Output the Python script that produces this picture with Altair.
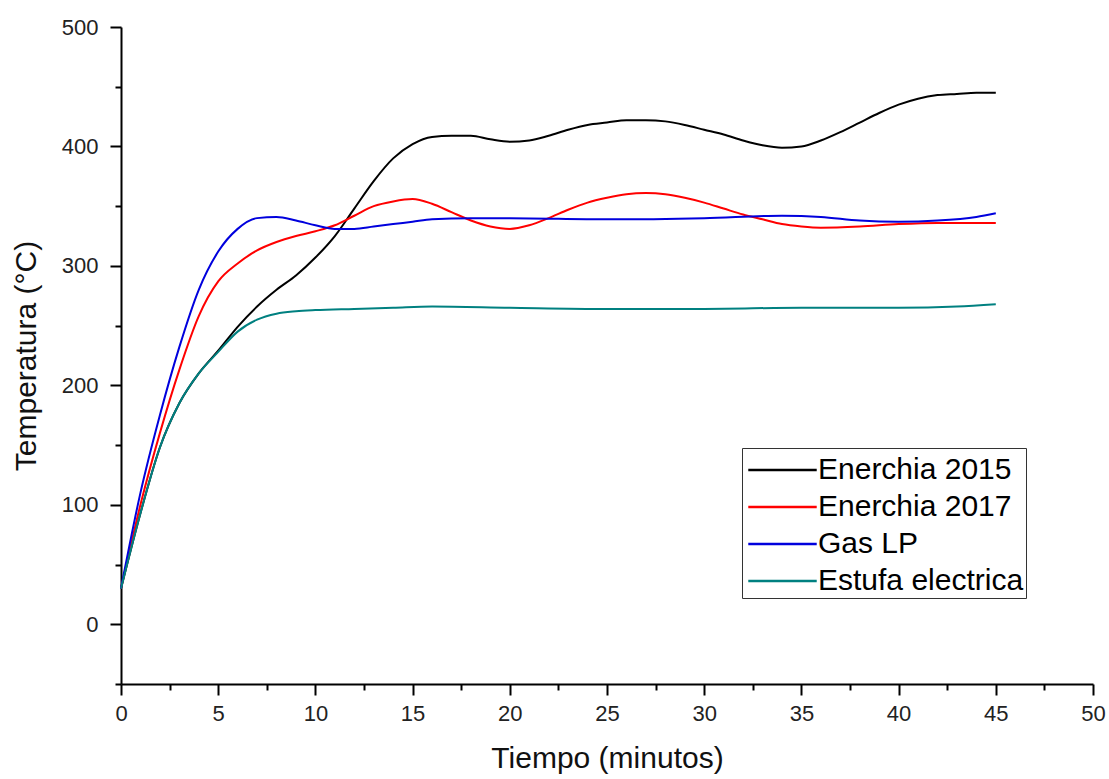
import altair as alt
import pandas as pd

# Enerchia 2015 (black)
t_e15 = [0, 1, 2, 3, 4, 5, 6, 7, 8, 9, 10, 11, 12, 13, 14, 15, 16, 17, 18, 19, 20,
         21, 22, 23, 24, 25, 26, 27, 28, 29, 30, 31, 32, 33, 34, 35, 36, 37, 38, 39,
         40, 41, 42, 43, 44, 45]
v_e15 = [30, 93, 148, 185, 210, 229, 249, 266, 280, 292, 307, 325, 348, 371, 390, 402,
         408, 409, 409, 406, 404, 405, 409, 414, 418, 420, 422, 422, 421, 418, 414, 410,
         405, 401, 399, 400, 405, 412, 420, 428, 435, 440, 443, 444, 445, 445]

# Enerchia 2017 (red)
t_e17 = [0, 1, 2, 3, 4, 5, 6, 7, 8, 9, 10, 11, 12, 13, 14, 15, 16, 17, 18, 19, 20,
         21, 22, 23, 24, 25, 26, 27, 28, 29, 30, 31, 32, 33, 34, 35, 36, 38, 40, 42, 45]
v_e17 = [30, 100, 160, 213, 258, 287, 302, 313, 320, 325, 329, 334, 342, 350, 354, 356,
         352, 345, 338, 333, 331, 334, 340, 347, 353, 357, 360, 361, 360, 357, 353, 348,
         343, 339, 335, 333, 332, 333, 335, 336, 336]

# Gas LP (blue)
t_gas = [0, 1, 2, 3, 4, 5, 6, 7, 8, 9, 10, 11, 12, 13, 14, 15, 16, 18, 20, 25, 30,
         34, 36, 38, 40, 42, 44, 45]
v_gas = [30, 110, 175, 232, 280, 312, 331, 340, 341, 338, 334, 331, 331, 333, 335, 337,
         339, 340, 340, 339, 340, 342, 341, 338, 337, 338, 341, 344]

# Estufa electrica (teal)
t_est = [0, 1, 2, 3, 4, 5, 6, 7, 8, 9, 10, 12, 14, 16, 20, 25, 30, 35, 40, 43, 45]
v_est = [30, 93, 148, 185, 210, 228, 245, 255, 260, 262, 263, 264, 265, 266, 265, 264,
         264, 265, 265, 266, 268]

series_names = ["Enerchia 2015", "Enerchia 2017", "Gas LP", "Estufa electrica"]
series_colors = ["#000000", "#ff0000", "#0000dd", "#008080"]

x_major = [0, 5, 10, 15, 20, 25, 30, 35, 40, 45, 50]
x_minor = [2.5, 7.5, 12.5, 17.5, 22.5, 27.5, 32.5, 37.5, 42.5, 47.5]
y_major = [0, 100, 200, 300, 400, 500]
y_minor = [-50, 50, 150, 250, 350, 450]

rows = []
for name, ts, vs in zip(series_names, [t_e15, t_e17, t_gas, t_est],
                        [v_e15, v_e17, v_gas, v_est]):
    for t, v in zip(ts, vs):
        rows.append({"Tiempo": t, "Temp": v, "Serie": name})
df = pd.DataFrame(rows)

FONT = "Liberation Sans"
xdom = [0, 50]
ydom = [-50, 500]

lines = alt.Chart(df).mark_line(interpolate="monotone", strokeWidth=2).encode(
    x=alt.X("Tiempo:Q", scale=alt.Scale(domain=xdom, nice=False, zero=False),
            axis=alt.Axis(values=x_major, title="Tiempo (minutos)", grid=False,
                          tickSize=11, tickWidth=2, domainWidth=2, domainColor="#000",
                          tickColor="#000", labelFontSize=22, labelColor="#222",
                          labelFont=FONT, labelPadding=8, titleFont=FONT,
                          titleFontSize=30, titleFontWeight="normal", titleColor="#111",
                          titlePadding=19, orient="bottom", labelFlush=False)),
    y=alt.Y("Temp:Q", scale=alt.Scale(domain=ydom, nice=False, zero=False),
            axis=alt.Axis(values=y_major, title="Temperatura (°C)", grid=False,
                          tickSize=11, tickWidth=2, domainWidth=2, domainColor="#000",
                          tickColor="#000", labelFontSize=22, labelColor="#222",
                          labelFont=FONT, labelPadding=12, titleFont=FONT,
                          titleFontSize=30, titleFontWeight="normal", titleColor="#111",
                          titlePadding=20, orient="left", labelFlush=False)),
    color=alt.Color("Serie:N", scale=alt.Scale(domain=series_names, range=series_colors),
                    legend=alt.Legend(title=None, orient="none", legendX=621, legendY=421,
                                      symbolType="M-0.85,0H2.85", symbolSize=1369,
                                      symbolStrokeWidth=2.5, labelFont=FONT,
                                      labelFontSize=30, labelColor="#000",
                                      labelOffset=34, rowPadding=2,
                                      strokeColor="#333", padding=2,
                                      fillColor="white", labelLimit=400)),
)

minor = alt.Chart(df).mark_point(opacity=0).encode(
    x=alt.X("Tiempo:Q", scale=alt.Scale(domain=xdom, nice=False, zero=False),
            axis=alt.Axis(values=x_minor, labels=False, title=None, grid=False,
                          domain=False, tickSize=6, tickWidth=2, tickColor="#000",
                          orient="bottom")),
    y=alt.Y("Temp:Q", scale=alt.Scale(domain=ydom, nice=False, zero=False),
            axis=alt.Axis(values=y_minor, labels=False, title=None, grid=False,
                          domain=False, tickSize=6, tickWidth=2, tickColor="#000",
                          orient="left")),
)

chart = alt.layer(lines, minor).resolve_scale(
    x="independent", y="independent"
).resolve_axis(
    x="independent", y="independent"
).properties(
    width=972, height=657,
    autosize=alt.AutoSizeParams(type="none"),
    padding={"left": 121, "top": 27, "right": 16, "bottom": 95},
    background="white",
).configure_view(stroke=None)

chart.save("out.html", embed_options={"renderer": "svg", "actions": False})
